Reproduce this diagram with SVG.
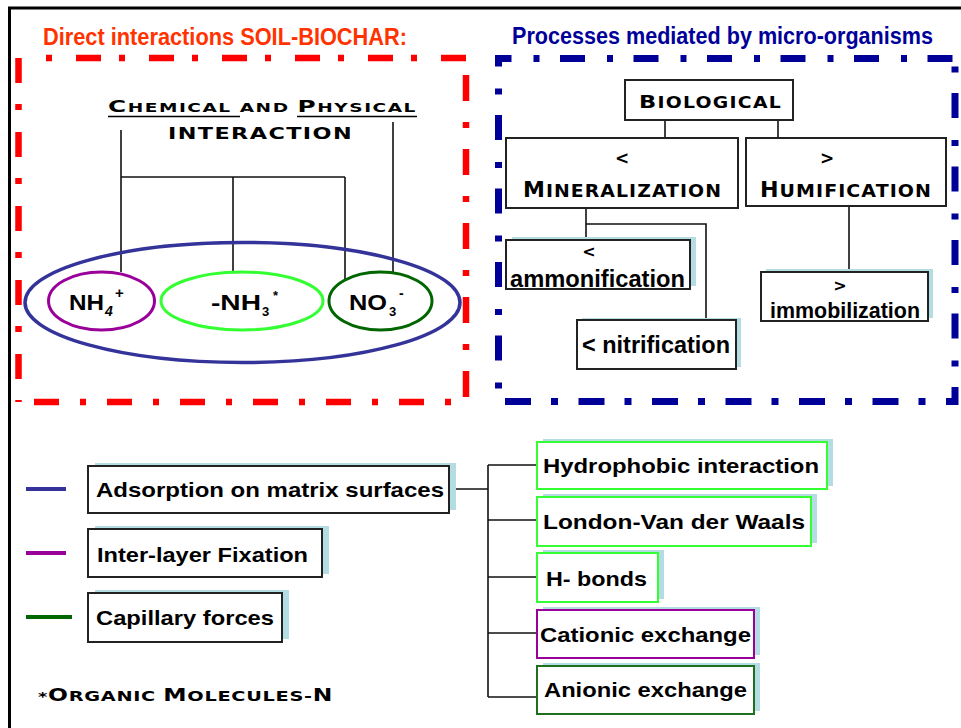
<svg xmlns="http://www.w3.org/2000/svg" width="961" height="728" viewBox="0 0 961 728">
<style>
.t{font-family:"Liberation Sans",Arial,sans-serif;font-weight:bold;fill:#000}
.sc{font-family:"DejaVu Sans",Verdana,sans-serif;font-weight:bold;fill:#000}
.box{fill:#fff;stroke:#222;stroke-width:2}
.sh{fill:#B3DDE3}
.ln{stroke:#111;stroke-width:1.6;fill:none}
.red{stroke:#FF0000;stroke-width:6.5;fill:none}
.blu{stroke:#000099;stroke-width:7;fill:none}
</style>
<rect x="0" y="0" width="961" height="728" fill="#fff"/>
<rect x="9.5" y="8" width="1000" height="1000" fill="none" stroke="#000" stroke-width="3"/>

<g id="red-frame">
<text class="t" x="43" y="45" font-size="24" style="fill:#FF3300" textLength="364" lengthAdjust="spacingAndGlyphs">Direct interactions SOIL-BIOCHAR:</text>
<line class="red" x1="43" y1="58" x2="468" y2="58" stroke-dasharray="6 24 25 18" stroke-dashoffset="70"/>
<line class="red" x1="18.5" y1="55" x2="18.5" y2="402" stroke-dasharray="25 21 6 22" stroke-dashoffset="-3"/>
<line class="red" x1="466" y1="75" x2="466" y2="400" stroke-dasharray="26 21 6 21"/>
<line class="red" x1="34" y1="402" x2="466" y2="402" stroke-dasharray="25 21 6 21"/>
</g>

<g id="blue-frame">
<text class="t" x="512" y="44" font-size="23" style="fill:#000099" textLength="421" lengthAdjust="spacingAndGlyphs">Processes mediated by micro-organisms</text>
<line class="blu" x1="495" y1="58.5" x2="955" y2="58.5" stroke-dasharray="25 22 6 20.5" stroke-dashoffset="8.5"/>
<line class="blu" x1="498.5" y1="55" x2="498.5" y2="398" stroke-dasharray="25 22 6 20.5" stroke-dashoffset="13.5"/>
<line class="blu" x1="955" y1="62" x2="955" y2="405" stroke-dasharray="25 22 6 20.5" stroke-dashoffset="42.5"/>
<line class="blu" x1="505" y1="401.5" x2="958" y2="401.5" stroke-dasharray="26 20 7 20.5"/>
</g>

<g id="connectors">
<line class="ln" x1="121" y1="130" x2="121" y2="272"/>
<line class="ln" x1="121" y1="177" x2="345" y2="177"/>
<line class="ln" x1="233" y1="177" x2="233" y2="273"/>
<line class="ln" x1="345" y1="177" x2="345" y2="281"/>
<line class="ln" x1="393" y1="122" x2="393" y2="273"/>
<line class="ln" x1="665" y1="120" x2="665" y2="138"/>
<line class="ln" x1="778" y1="120" x2="778" y2="138"/>
<line class="ln" x1="586" y1="208" x2="586" y2="240"/>
<polyline class="ln" points="586,224 706,224 706,320"/>
<line class="ln" x1="849" y1="206" x2="849" y2="272"/>
<line class="ln" x1="449" y1="489" x2="488" y2="489"/>
<line class="ln" x1="488" y1="465" x2="488" y2="697"/>
<line class="ln" x1="488" y1="465" x2="537" y2="465"/>
<line class="ln" x1="488" y1="520" x2="537" y2="520"/>
<line class="ln" x1="488" y1="577" x2="537" y2="577"/>
<line class="ln" x1="488" y1="633" x2="537" y2="633"/>
<line class="ln" x1="488" y1="697" x2="537" y2="697"/>
</g>

<g id="chem-phys">
<text class="sc" x="108" y="112" letter-spacing="1" textLength="309" lengthAdjust="spacingAndGlyphs"><tspan font-size="16">C</tspan><tspan font-size="12">HEMICAL AND </tspan><tspan font-size="16">P</tspan><tspan font-size="12">HYSICAL</tspan></text>
<line x1="108" y1="116.5" x2="240" y2="116.5" stroke="#000" stroke-width="1.5"/>
<line x1="297" y1="116.5" x2="417" y2="116.5" stroke="#000" stroke-width="1.5"/>
<text class="sc" x="168" y="139" font-size="16" letter-spacing="1" textLength="185" lengthAdjust="spacingAndGlyphs">INTERACTION</text>
</g>

<g id="matrix">
<ellipse cx="242.5" cy="302.5" rx="217.5" ry="60" fill="none" stroke="#333399" stroke-width="3.5"/>
</g>
<g id="nh4">
<ellipse cx="101.5" cy="301" rx="53" ry="29" fill="none" stroke="#990099" stroke-width="3"/>
<text class="t" font-size="22" y="310"><tspan x="69" textLength="35" lengthAdjust="spacingAndGlyphs">NH</tspan><tspan x="105" y="316" font-size="14" font-style="italic">4</tspan><tspan x="115" y="298" font-size="15">+</tspan></text>
</g>
<g id="nh3">
<ellipse cx="242" cy="301" rx="81" ry="29" fill="none" stroke="#33FF33" stroke-width="3"/>
<text class="t" font-size="22" y="310"><tspan x="211" textLength="50" lengthAdjust="spacingAndGlyphs">-NH</tspan><tspan x="262" y="316" font-size="13">3</tspan><tspan x="273" y="300" font-size="13">*</tspan></text>
</g>
<g id="no3">
<ellipse cx="380.5" cy="301" rx="51.5" ry="29" fill="none" stroke="#006600" stroke-width="3"/>
<text class="t" font-size="22" y="310"><tspan x="349" textLength="38" lengthAdjust="spacingAndGlyphs">NO</tspan><tspan x="389" y="316" font-size="13">3</tspan><tspan x="399" y="298" font-size="14">-</tspan></text>
</g>

<g id="biological">
<rect class="box" x="625" y="80" width="168" height="40"/>
<text class="sc" x="639" y="108" letter-spacing="1" textLength="143" lengthAdjust="spacingAndGlyphs"><tspan font-size="18">B</tspan><tspan font-size="15">IOLOGICAL</tspan></text>
</g>
<g id="mineralization">
<rect class="box" x="506" y="138" width="232" height="70"/>
<text class="sc" x="622" y="164" font-size="17" text-anchor="middle">&lt;</text>
<text class="sc" x="523" y="197" letter-spacing="1" textLength="199" lengthAdjust="spacingAndGlyphs"><tspan font-size="21">M</tspan><tspan font-size="18">INERALIZATION</tspan></text>
</g>
<g id="humification">
<rect class="box" x="746" y="138" width="200" height="68"/>
<text class="sc" x="827" y="164" font-size="17" text-anchor="middle">&gt;</text>
<text class="sc" x="760" y="197" letter-spacing="1" textLength="172" lengthAdjust="spacingAndGlyphs"><tspan font-size="21">H</tspan><tspan font-size="18">UMIFICATION</tspan></text>
</g>
<g id="ammonification">
<rect class="sh" x="512" y="237" width="184" height="49"/>
<rect class="box" x="506" y="240" width="184" height="49"/>
<text class="sc" x="589" y="257" font-size="16" text-anchor="middle">&lt;</text>
<text class="t" x="510" y="287" font-size="24" textLength="175" lengthAdjust="spacingAndGlyphs">ammonification</text>
</g>
<g id="nitrification">
<rect class="sh" x="582" y="318" width="159" height="49"/>
<rect class="box" x="577" y="320" width="159" height="49"/>
<text class="t" x="582" y="353" font-size="23" textLength="148" lengthAdjust="spacingAndGlyphs">&lt; nitrification</text>
</g>
<g id="immobilization">
<rect class="sh" x="766" y="269" width="167" height="49"/>
<rect class="box" x="761" y="272" width="167" height="49"/>
<text class="sc" x="840" y="291" font-size="16" text-anchor="middle">&gt;</text>
<text class="t" x="770" y="318" font-size="22" textLength="150" lengthAdjust="spacingAndGlyphs">immobilization</text>
</g>

<g id="legend-lines">
<line x1="26" y1="489" x2="66" y2="489" stroke="#333399" stroke-width="4"/>
<line x1="26" y1="553" x2="66" y2="553" stroke="#990099" stroke-width="4"/>
<line x1="26" y1="617" x2="72" y2="617" stroke="#006600" stroke-width="4"/>
</g>
<g id="adsorption">
<rect class="sh" x="95" y="463" width="361" height="47"/>
<rect class="box" x="88" y="466" width="361" height="47"/>
<text class="t" x="96" y="497" font-size="21" textLength="348" lengthAdjust="spacingAndGlyphs">Adsorption on matrix surfaces</text>
</g>
<g id="interlayer">
<rect class="sh" x="95" y="526" width="234" height="48"/>
<rect class="box" x="88" y="529" width="234" height="48"/>
<text class="t" x="97" y="562" font-size="21" textLength="211" lengthAdjust="spacingAndGlyphs">Inter-layer Fixation</text>
</g>
<g id="capillary">
<rect class="sh" x="95" y="590" width="194" height="49"/>
<rect class="box" x="88" y="593" width="194" height="49"/>
<text class="t" x="96" y="625" font-size="21" textLength="178" lengthAdjust="spacingAndGlyphs">Capillary forces</text>
</g>

<g id="hydrophobic">
<rect class="sh" x="543" y="439" width="290" height="47"/>
<rect class="box" x="537" y="442" width="290" height="47" style="stroke:#33FF33"/>
<text class="t" x="543" y="473" font-size="21" textLength="276" lengthAdjust="spacingAndGlyphs">Hydrophobic interaction</text>
</g>
<g id="london">
<rect class="sh" x="543" y="494" width="274" height="49"/>
<rect class="box" x="537" y="497" width="274" height="49" style="stroke:#33FF33"/>
<text class="t" x="543" y="529" font-size="21" textLength="262" lengthAdjust="spacingAndGlyphs">London-Van der Waals</text>
</g>
<g id="hbonds">
<rect class="sh" x="543" y="550" width="121" height="49"/>
<rect class="box" x="537" y="553" width="121" height="49" style="stroke:#33FF33"/>
<text class="t" x="546" y="586" font-size="21" textLength="101" lengthAdjust="spacingAndGlyphs">H- bonds</text>
</g>
<g id="cationic">
<rect class="sh" x="543" y="607" width="217" height="48"/>
<rect class="box" x="537" y="610" width="217" height="48" style="stroke:#990099"/>
<text class="t" x="540" y="642" font-size="21" textLength="211" lengthAdjust="spacingAndGlyphs">Cationic exchange</text>
</g>
<g id="anionic">
<rect class="sh" x="543" y="663" width="217" height="48"/>
<rect class="box" x="537" y="666" width="217" height="48" style="stroke:#1F6F1F"/>
<text class="t" x="544" y="697" font-size="21" textLength="203" lengthAdjust="spacingAndGlyphs">Anionic exchange</text>
</g>

<g id="footnote">
<text class="sc" x="38" y="701" letter-spacing="0.5" textLength="295" lengthAdjust="spacingAndGlyphs"><tspan font-size="13">*</tspan><tspan font-size="17">O</tspan><tspan font-size="14">RGANIC </tspan><tspan font-size="17">M</tspan><tspan font-size="14">OLECULES-</tspan><tspan font-size="17">N</tspan></text>
</g>
</svg>
